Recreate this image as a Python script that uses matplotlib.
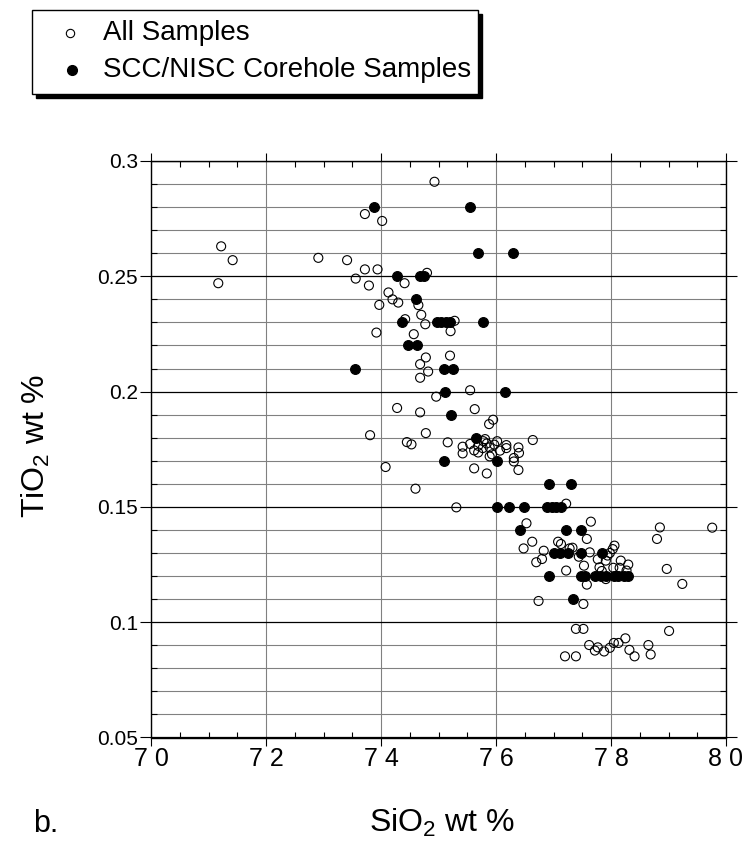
import matplotlib
matplotlib.use("Agg")
import matplotlib.pyplot as plt
from matplotlib.ticker import MultipleLocator, FixedLocator, FixedFormatter
from matplotlib.patches import Rectangle
from matplotlib.lines import Line2D

plt.rcParams['font.family'] = ['Liberation Sans', 'DejaVu Sans']
plt.rcParams['mathtext.fontset'] = 'custom'
plt.rcParams['mathtext.rm'] = 'Liberation Sans'
plt.rcParams['mathtext.it'] = 'Liberation Sans'
plt.rcParams['mathtext.default'] = 'regular'

# ---- data: All Samples (open circles) ----
all_sio2 = [74.93, 73.72, 74.02, 71.22, 71.42, 71.17, 72.91, 73.41, 73.72, 73.94,
            73.56, 73.79, 74.41, 74.80, 74.13, 74.20, 74.30, 73.97, 74.65, 74.70,
            74.42, 74.77, 73.92, 74.57, 75.28, 75.21, 74.78, 75.20, 74.68, 74.82,
            74.68, 75.55, 74.96, 74.28, 74.68, 75.63, 75.95, 75.88, 73.81, 74.78,
            74.45, 74.53, 75.16, 75.42, 75.55, 75.42, 75.69, 75.69, 75.81, 75.84,
            75.77, 75.89, 75.97, 75.89, 76.07, 76.18, 76.18, 76.39, 76.40, 76.31,
            76.31, 76.64, 75.62, 75.84, 76.39, 74.08, 74.60, 75.31, 77.22, 76.53,
            77.65, 76.63, 76.48, 76.70, 76.80, 76.83, 77.08, 77.13, 77.28, 77.44,
            77.58, 77.63, 77.53, 77.77, 77.80, 77.91, 77.94, 78.03, 78.06, 78.17,
            78.30, 78.04, 78.15, 78.27, 77.22, 77.91, 77.58, 76.74, 77.52, 77.39,
            77.52, 77.20, 77.39, 77.62, 77.72, 77.77, 77.88, 77.98, 78.05, 78.13,
            78.25, 78.32, 78.41, 78.65, 78.69, 79.01, 78.85, 78.80, 78.97, 79.24,
            79.76, 75.62, 75.78, 75.93, 76.02, 77.33, 77.98, 77.84]
all_tio2 = [0.291, 0.277, 0.274, 0.263, 0.257, 0.247, 0.258, 0.257, 0.253, 0.253,
            0.249, 0.246, 0.247, 0.2515, 0.243, 0.240, 0.2386, 0.2376, 0.2375, 0.2333,
            0.2314, 0.2292, 0.2256, 0.2249, 0.2307, 0.2262, 0.2148, 0.2156, 0.2119, 0.2087,
            0.206, 0.2006, 0.1978, 0.1929, 0.191, 0.1924, 0.1878, 0.1859, 0.1811, 0.182,
            0.1781, 0.1771, 0.178, 0.1761, 0.1773, 0.1732, 0.1765, 0.1736, 0.1794, 0.1775,
            0.1755, 0.1758, 0.177, 0.1719, 0.1744, 0.1768, 0.1755, 0.1758, 0.1734, 0.1712,
            0.1697, 0.179, 0.1667, 0.1645, 0.166, 0.1673, 0.1579, 0.1498, 0.1514, 0.1429,
            0.1436, 0.1349, 0.132, 0.126, 0.1274, 0.131, 0.1349, 0.1339, 0.132, 0.1284,
            0.1361, 0.1303, 0.1245, 0.1273, 0.1238, 0.1267, 0.1289, 0.1317, 0.1332, 0.1267,
            0.125, 0.1236, 0.1236, 0.1224, 0.1224, 0.1187, 0.1163, 0.1092, 0.1079, 0.0971,
            0.0971, 0.0852, 0.0852, 0.0901, 0.0877, 0.0891, 0.0873, 0.0889, 0.091, 0.091,
            0.093, 0.088, 0.0852, 0.0901, 0.086, 0.0962, 0.1411, 0.1361, 0.1231, 0.1166,
            0.141, 0.1745, 0.1785, 0.1728, 0.1785, 0.1323, 0.1300, 0.1222]

# ---- data: SCC/NISC Corehole Samples (filled circles) ----
core_sio2 = [73.87, 75.55, 75.69, 76.29, 74.27, 74.67, 74.75, 74.60, 74.37, 74.98,
             75.05, 75.13, 75.20, 75.78, 74.47, 74.62, 73.54, 75.09, 75.26, 75.11,
             76.16, 75.21, 75.66, 75.09, 76.02, 76.92, 77.31, 76.02, 76.23, 76.48,
             76.89, 76.97, 77.05, 77.13, 76.41, 77.21, 77.47, 77.01, 77.11, 77.25,
             77.47, 77.84, 76.92, 77.47, 77.55, 77.72, 77.82, 77.91, 78.05, 78.13,
             78.22, 78.30, 77.34]
core_tio2 = [0.28, 0.28, 0.26, 0.26, 0.25, 0.25, 0.25, 0.24, 0.23, 0.23,
             0.23, 0.23, 0.23, 0.23, 0.22, 0.22, 0.21, 0.21, 0.21, 0.20,
             0.20, 0.19, 0.18, 0.17, 0.17, 0.16, 0.16, 0.15, 0.15, 0.15,
             0.15, 0.15, 0.15, 0.15, 0.14, 0.14, 0.14, 0.13, 0.13, 0.13,
             0.13, 0.13, 0.12, 0.12, 0.12, 0.12, 0.12, 0.12, 0.12, 0.12,
             0.12, 0.12, 0.11]

x_ticks = [70, 72, 74, 76, 78, 80]
x_ticklabels = ["7 0", "7 2", "7 4", "7 6", "7 8", "8 0"]
y_ticks = [0.05, 0.1, 0.15, 0.2, 0.25, 0.3]
y_ticklabels = ["0.05", "0.1", "0.15", "0.2", "0.25", "0.3"]
legend_labels = ["All Samples", "SCC/NISC Corehole Samples"]

W, H = 749, 848
fig = plt.figure(figsize=(W / 100, H / 100), dpi=100)
ax = fig.add_axes([151 / W, 1 - 737.5 / H, (726 - 151) / W, (737.5 - 161) / H])

ax.set_xlim(70, 80)
ax.set_ylim(0.05, 0.3)

ax.xaxis.set_major_locator(FixedLocator(x_ticks))
ax.xaxis.set_major_formatter(FixedFormatter(x_ticklabels))
ax.xaxis.set_minor_locator(MultipleLocator(0.5))
ax.yaxis.set_major_locator(FixedLocator(y_ticks))
ax.yaxis.set_major_formatter(FixedFormatter(y_ticklabels))
ax.yaxis.set_minor_locator(MultipleLocator(0.01))

ax.grid(True, which='major', axis='x', color='#808080', linewidth=0.8)
ax.grid(True, which='minor', axis='y', color='#808080', linewidth=0.8)
ax.grid(True, which='major', axis='y', color='black', linewidth=0.9)
ax.set_axisbelow(True)

ax.tick_params(axis='x', which='major', direction='out', length=5.5, width=0.8,
               top=True, labelsize=18, pad=1.5)
ax.tick_params(axis='y', which='major', direction='out', length=8, width=0.8,
               right=True, labelsize=15, pad=1.5)
ax.tick_params(which='minor', direction='in', length=4, width=0.8,
               top=True, right=True)
for s in ax.spines.values():
    s.set_linewidth(1.0)
    s.set_color('black')

ax.scatter(all_sio2, all_tio2, s=42, facecolors='none', edgecolors='black',
           linewidths=0.8, zorder=3)
ax.scatter(core_sio2, core_tio2, s=50, facecolors='black', edgecolors='black',
           linewidths=0.8, zorder=4)

# axis titles
fig.text(442 / W, 1 - 832 / H, "SiO$_2$ wt %", fontsize=23, ha='center', va='baseline')
fig.text(36 / W, 1 - 446 / H, "TiO$_2$ wt %", fontsize=23, ha='center', va='center',
         rotation=90)
fig.text(33 / W, 1 - 832 / H, "b.", fontsize=22, ha='left', va='baseline')

# legend box with black drop shadow (figure pixel coords)
bx0, bx1, by0, by1 = 32, 478, 10, 94
shadow = Rectangle(((bx0 + 4) / W, 1 - (by1 + 4) / H), (bx1 - bx0) / W, (by1 - by0) / H,
                   transform=fig.transFigure, facecolor='black', edgecolor='black', zorder=1)
box = Rectangle((bx0 / W, 1 - by1 / H), (bx1 - bx0) / W, (by1 - by0) / H,
                transform=fig.transFigure, facecolor='white', edgecolor='black',
                linewidth=1.0, zorder=2)
fig.add_artist(shadow)
fig.add_artist(box)
leg_y = [33, 70]
fig.add_artist(Line2D([70 / W], [1 - leg_y[0] / H], marker='o', markersize=6,
                      markerfacecolor='none', markeredgecolor='black',
                      markeredgewidth=0.8, linestyle='none', transform=fig.transFigure, zorder=3))
fig.add_artist(Line2D([72 / W], [1 - leg_y[1] / H], marker='o', markersize=7,
                      markerfacecolor='black', markeredgecolor='black',
                      linestyle='none', transform=fig.transFigure, zorder=3))
for lab, yy in zip(legend_labels, leg_y):
    fig.text(103 / W, 1 - yy / H, lab, fontsize=20, ha='left', va='center', zorder=3)

fig.savefig("out.png", dpi=100)
